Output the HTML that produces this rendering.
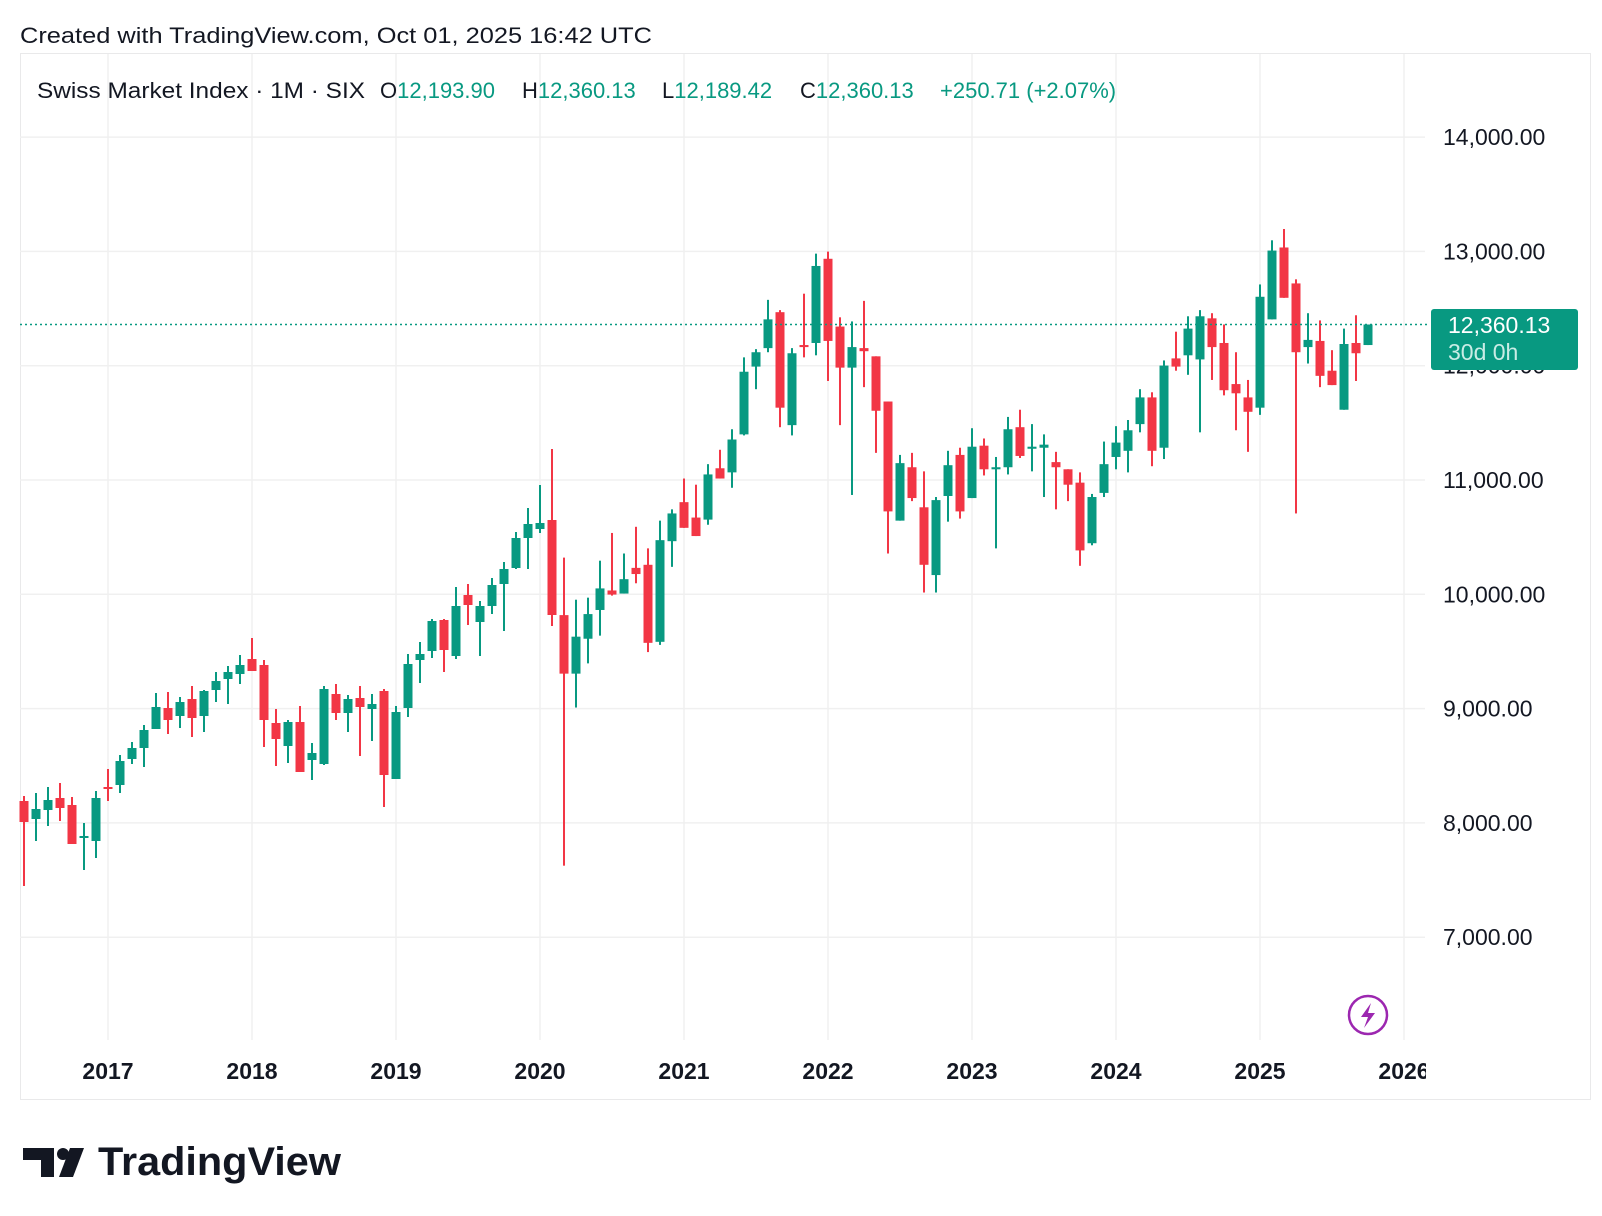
<!DOCTYPE html>
<html><head><meta charset="utf-8"><style>
html,body{margin:0;padding:0;background:#fff;}
svg{display:block;font-family:"Liberation Sans",sans-serif;}
</style></head><body>
<svg id="s" width="1602" height="1216" viewBox="0 0 1602 1216" xmlns="http://www.w3.org/2000/svg">
<rect width="1602" height="1216" fill="#fff"/>
<text x="20" y="43" font-size="22" fill="#131722" textLength="632" lengthAdjust="spacingAndGlyphs">Created with TradingView.com, Oct 01, 2025 16:42 UTC</text>
<rect x="20.5" y="53.5" width="1570" height="1046" fill="none" stroke="#e9e9ea" stroke-width="1"/>
<g id="grid" stroke="#f0f0f0" stroke-width="1.5"></g>
<g font-size="22" fill="#131722">
<text x="37" y="98" textLength="328" lengthAdjust="spacingAndGlyphs">Swiss Market Index · 1M · SIX</text>
<text x="380" y="98">O<tspan fill="#089981">12,193.90</tspan></text>
<text x="522" y="98">H<tspan fill="#089981">12,360.13</tspan></text>
<text x="662" y="98">L<tspan fill="#089981">12,189.42</tspan></text>
<text x="800" y="98">C<tspan fill="#089981">12,360.13</tspan></text>
<text x="940" y="98" fill="#089981">+250.71 (+2.07%)</text>
</g>
<g id="c"></g>
<line x1="20" y1="324.5" x2="1428" y2="324.5" stroke="#089981" stroke-width="1.5" stroke-dasharray="2,3"/>
<g id="lab" font-size="23" fill="#131722"></g>
<rect x="1431" y="309" width="147" height="61" rx="3" fill="#089981"/>
<text x="1448" y="333" font-size="23" fill="#fff">12,360.13</text>
<text x="1448" y="360" font-size="23" fill="#c9ece5">30d 0h</text>
<circle cx="1368" cy="1015" r="19" fill="#fff" stroke="#9c27b0" stroke-width="2.5"/>
<path d="M1371 1003 L1361 1017 L1368 1017 L1364 1028 L1375 1013 L1368 1013 Z" fill="#9c27b0"/>
<g font-size="23" font-weight="bold" fill="#131722" id="yrs"></g>
<rect x="1426" y="1045" width="30" height="50" fill="#fff"/>
<path d="M23 1148 H54 V1177 H41 V1160 H23 Z" fill="#131722"/>
<circle cx="63" cy="1154" r="6" fill="#131722"/>
<path d="M70 1148 H84 L73 1177 H59 Z" fill="#131722"/>
<text x="98" y="1175" font-size="40" font-weight="bold" fill="#131722" textLength="243" lengthAdjust="spacingAndGlyphs">TradingView</text>
</svg>
<script>
var NS="http://www.w3.org/2000/svg";
function el(t,a,p){var e=document.createElementNS(NS,t);for(var k in a)e.setAttribute(k,a[k]);p.appendChild(e);return e;}
var g=document.getElementById('grid');
function py(p){return 480+(11000-p)*0.1143;}
for(var p=7000;p<=14000;p+=1000){var y=py(p);el('line',{x1:20,x2:1425,y1:y,y2:y},g);}
for(var yr=2017;yr<=2026;yr++){var x=108+(yr-2017)*144;el('line',{x1:x,x2:x,y1:54,y2:1040},g);}
var lab=document.getElementById('lab');
for(var p=7000;p<=14000;p+=1000){var t=el('text',{x:1443,y:py(p)+8},lab);t.textContent=(p/1000|0)+',000.00';}
var yrs=document.getElementById('yrs');
for(var yr=2017;yr<=2026;yr++){var t=el('text',{x:108+(yr-2017)*144,y:1079,'text-anchor':'middle'},yrs);t.textContent=yr;}
var A=[[801,796,886,822],[819,793,841,809],[810,787,826,800],[798,783,821,808],[805,797,844,844],[837,823,870,836],[841,791,858,798],[787,769,801,788],[785,755,793,761],[759,742,764,748],[748,725,767,730],[729,693,729,707],[708,692,734,720],[716,697,728,702],[699,686,737,718],[716,690,732,691],[690,672,702,681],[679,666,704,672],[674,655,684,665],[659,638,671,671],[665,660,747,720],[723,709,766,739],[746,720,763,722],[722,706,772,772],[760,743,780,753],[764,686,765,689],[694,684,720,713],[713,695,732,699],[698,686,756,707],[709,694,741,704],[691,689,807,775],[779,706,779,712],[708,654,717,664],[660,642,683,654],[651,619,658,621],[620,619,672,650],[656,587,659,606],[595,584,625,605],[622,601,656,606],[606,578,614,585],[584,562,631,569],[568,532,569,538],[538,508,569,524],[529,485,533,523],[520,449,626,615]];
var B=[[599,543,843,656],[656,584,689,620],[622,582,646,598],[594,546,619,573],[575,519,580,579],[578,539,578,564],[553,513,568,559],[550,534,635,626],[625,507,628,526],[527,496,552,500],[489,466,514,514],[504,472,522,522],[506,452,511,462],[456,438,466,466],[460,418,475,428],[423,348,424,362],[357,340,379,343],[339,292,343,311],[304,302,416,397],[414,339,424,344],[336,286,348,338],[334,247,346,259],[252,245,371,332],[318,309,414,358],[358,313,482,338],[339,293,377,342],[347,347,441,400],[391,391,539,498],[507,443,507,451],[455,441,488,485],[494,459,577,550],[560,484,577,487],[483,439,508,453],[443,436,505,498],[485,417,485,435],[434,427,463,457],[457,445,534,455],[455,406,462,418],[416,399,446,444],[437,413,459,435],[436,423,484,433],[450,440,496,455],[457,457,488,472],[470,460,551,536],[529,481,531,484],[480,430,484,452],[445,415,457,431],[439,409,460,419],[413,379,421,387],[387,382,454,439],[436,351,447,356],[349,323,361,357],[346,308,365,320],[350,302,421,308],[310,305,370,338],[334,316,385,380],[374,343,419,383],[387,370,440,401],[397,277,404,289],[311,234,311,244],[241,223,290,290],[276,272,500,343],[338,305,354,331],[332,312,377,366],[361,341,375,375],[399,320,399,335],[334,307,371,344],[336,316,336,316]];
var C=A.concat(B.map(function(r){return r.map(function(v){return v*1.0269;});}));
var cg=document.getElementById('c');
C.forEach(function(r,i){
 var x=108+(i-7)*12,O=r[0],H=r[1],L=r[2],Cl=r[3];
 var up=Cl<=O, col=up?'#089981':'#f23645';
 var top=Math.min(O,Cl),bot=Math.max(O,Cl);if(bot-top<2){bot=top+2;}
 el('rect',{x:x-1,y:Math.min(H,top),width:2,height:Math.max(L,bot)-Math.min(H,top),fill:col},cg);
 el('rect',{x:x-4.5,y:top,width:9,height:bot-top,fill:col},cg);
});
</script>
</body></html>
